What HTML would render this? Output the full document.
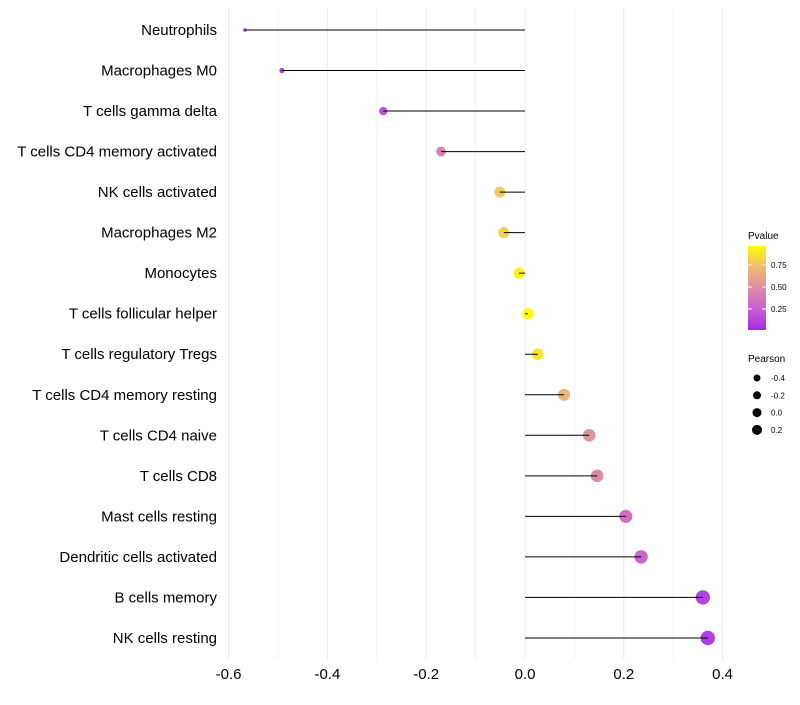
<!DOCTYPE html>
<html><head><meta charset="utf-8"><style>
body{margin:0;background:#fff;font-family:"Liberation Sans",sans-serif}
</style></head><body>
<svg id="chart" width="800" height="700" xmlns="http://www.w3.org/2000/svg" font-family="Liberation Sans, sans-serif"></svg>
<script>
const categories=["Neutrophils","Macrophages M0","T cells gamma delta","T cells CD4 memory activated","NK cells activated","Macrophages M2","Monocytes","T cells follicular helper","T cells regulatory  Tregs ","T cells CD4 memory resting","T cells CD4 naive","T cells CD8","Mast cells resting","Dendritic cells activated","B cells memory","NK cells resting"];
const pearson=[-0.567,-0.492,-0.287,-0.170,-0.051,-0.043,-0.012,0.006,0.026,0.079,0.130,0.146,0.204,0.235,0.360,0.370];
const pvalue=[0.05,0.1,0.2,0.45,0.8,0.82,0.95,0.98,0.9,0.7,0.55,0.5,0.35,0.3,0.15,0.12];
const xTicks=[-0.6,-0.4,-0.2,0.0,0.2,0.4];
const pTicks=[0.25,0.5,0.75];
const sizeTicks=[-0.4,-0.2,0.0,0.2];
const NS="http://www.w3.org/2000/svg";
const svg=document.getElementById('chart');
function el(t,a,p){const e=document.createElementNS(NS,t);for(const k in a)e.setAttribute(k,a[k]);(p||svg).appendChild(e);return e;}
const x=v=>525+v*494;
const y=i=>30+i*40.53;
const r=v=>Math.sqrt(Math.max(0.5,1.18+52.2*(v+0.6)));
const stops=[[0,[160,32,240]],[0.25,[196,90,211]],[0.5,[221,138,168]],[0.75,[240,189,112]],[1,[255,255,0]]];
function col(p){for(let i=0;i<stops.length-1;i++){const a=stops[i],b=stops[i+1];if(p<=b[0]){const t=(p-a[0])/(b[0]-a[0]);const c=a[1].map((v,k)=>Math.round(v+(b[1][k]-v)*t));return `rgb(${c})`;}}return 'rgb(255,255,0)';}
for(let v=-0.6;v<=0.41;v+=0.1){const g=el('line',{x1:x(v),x2:x(v),y1:8,y2:660,stroke:'#ebebeb','stroke-width':Math.abs(Math.round(v*10))%2===0?1:0.6});

}
xTicks.forEach(v=>{const t=el('text',{x:x(v),y:679,'text-anchor':'middle','font-size':15,fill:'#000'});t.textContent=v.toFixed(1);

});
categories.forEach((c,i)=>{
const t=el('text',{x:217,y:y(i)+5,'text-anchor':'end','font-size':15,fill:'#000'});t.textContent=c;


const d=el('circle',{cx:x(pearson[i]),cy:y(i),r:r(pearson[i]),fill:col(pvalue[i])});


const l=el('line',{x1:x(0),x2:x(pearson[i]),y1:y(i),y2:y(i),stroke:'#000','stroke-width':1});


});
let t=el('text',{x:748,y:239,'font-size':10});t.textContent='Pvalue';


const defs=el('defs',{});const lg=el('linearGradient',{id:'pg',x1:0,y1:1,x2:0,y2:0},defs);
for(let i=0;i<=10;i++){el('stop',{offset:i/10,'stop-color':col(0.04+0.94*i/10)},lg);}
const bar=el('rect',{x:748,y:246,width:18,height:84,fill:'url(#pg)'});


const py=p=>331-p*88;
pTicks.forEach(p=>{el('line',{x1:748,x2:752,y1:py(p),y2:py(p),stroke:'#fff'});el('line',{x1:762,x2:766,y1:py(p),y2:py(p),stroke:'#fff'});
const tt=el('text',{x:771,y:py(p)+3,'font-size':8});tt.textContent=p.toFixed(2);

});
t=el('text',{x:748,y:362,'font-size':10});t.textContent='Pearson';


sizeTicks.forEach((v,i)=>{const cy=378+i*17.3;
const c=el('circle',{cx:757,cy:cy,r:3.5+(v+0.4)*2.5,fill:'#000'});


const tt=el('text',{x:771,y:cy+3,'font-size':8});tt.textContent=v.toFixed(1);

});
</script>
</body></html>
